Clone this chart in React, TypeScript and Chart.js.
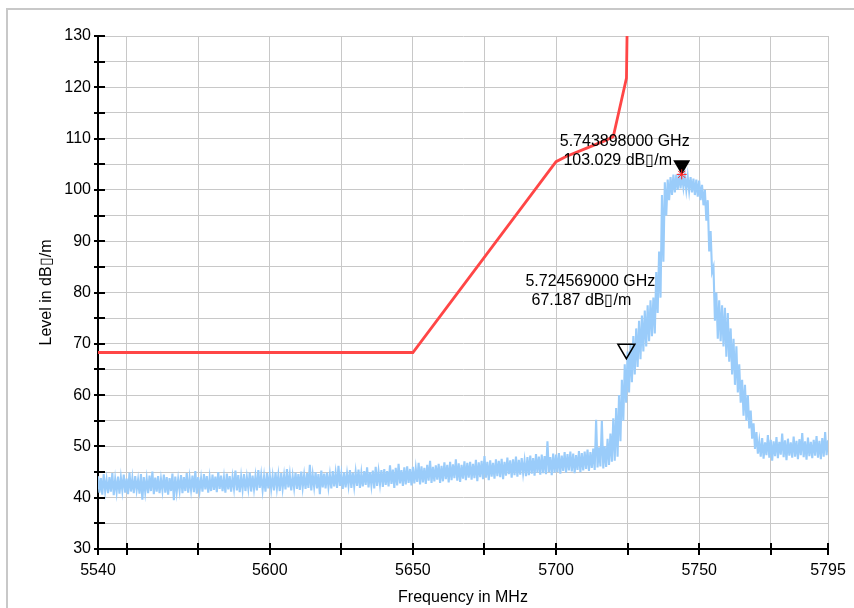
import React, { useEffect, useRef } from "react";
import { Chart, registerables } from "chart.js";

Chart.register(...registerables);

// ---------- data ----------
const xMin = 5540;
const xMax = 5795;
const yMin = 30;
const yMax = 130;
const xTickValues = [5540, 5550, 5575, 5600, 5625, 5650, 5675, 5700, 5725, 5750, 5775, 5795];
const xLabeledValues = [5540, 5600, 5650, 5700, 5750, 5795];
const yStep = 5;
const yLabelEvery = 10;

// measured trace, 1 MHz bins starting at 5540 MHz: upper and lower edge of the noisy trace
const traceStart = 5540;
const traceStep = 1;
const traceHigh = [
  44.2, 43.8, 44.6, 43.5, 44.0, 44.8, 43.6, 44.1, 43.9, 44.5,
  43.7, 44.9, 43.8, 44.2, 43.5, 44.6, 44.0, 43.7, 44.3, 45.1,
  43.9, 44.2, 43.6, 44.5, 44.0, 43.8, 44.7, 44.1, 43.6, 44.4,
  44.0, 44.8, 43.9, 44.3, 45.2, 44.0, 43.8, 44.6, 44.2, 43.9,
  44.5, 44.1, 45.0, 44.3, 43.9, 44.7, 44.2, 44.0, 45.3, 44.4,
  44.1, 44.6, 44.0, 44.9, 44.3, 44.2, 45.4, 44.4, 44.1, 44.8,
  44.5, 44.2, 45.0, 44.4, 44.8, 44.3, 45.6, 44.5, 44.2, 44.9,
  44.6, 45.1, 44.4, 44.8, 46.4, 44.5, 45.0, 44.6, 45.3, 44.7,
  44.9, 44.5, 45.2, 44.8, 46.2, 44.6, 45.0, 44.7, 45.4, 44.9,
  45.0, 45.5, 44.8, 45.2, 45.9, 45.0, 45.3, 46.0, 45.1, 45.4,
  45.6, 45.2, 46.3, 45.5, 45.8, 46.6, 45.4, 45.9, 46.1, 45.6,
  46.0, 45.7, 46.8, 46.1, 45.8, 46.4, 47.2, 46.0, 46.3, 46.6,
  46.2, 46.9, 46.4, 47.0, 46.5, 47.5, 46.7, 46.4, 47.1, 46.8,
  47.0, 46.6, 47.4, 46.9, 47.2, 48.1, 47.0, 47.3, 46.8, 47.5,
  47.2, 47.6, 47.0, 47.8, 47.3, 47.5, 48.0, 47.4, 47.7, 47.2,
  47.9, 48.2, 47.7, 48.5, 48.0, 48.4, 48.1, 51.0, 47.9, 48.6,
  48.4, 48.7, 48.2, 48.9, 48.5, 49.0, 48.6, 48.3, 49.1, 48.7,
  49.0, 49.4, 48.9, 49.6, 55.2, 49.8, 55.0, 50.0, 51.5, 52.5,
  55.5, 57.5, 60.0, 63.0, 66.0, 68.5, 70.0, 71.5, 73.0, 74.5,
  75.5, 76.5, 77.5, 78.5, 79.0, 84.0, 88.0, 99.0, 101.5, 102.0,
  102.5, 103.0, 103.0, 103.2, 103.0, 102.8, 102.6, 102.5, 102.2, 102.0,
  101.8, 101.0, 100.0, 98.0, 92.0, 85.0, 80.0, 78.5, 77.5, 77.0,
  76.0, 73.0, 71.0, 69.5, 66.0, 63.0, 62.0, 60.0, 57.0, 54.5,
  52.8,
  51.0, 51.6, 50.8, 52.2, 51.3, 51.0, 51.8, 50.9, 52.5, 51.2,
  51.5, 50.8, 51.9, 51.1, 51.4, 52.6, 51.0, 51.7, 50.9, 51.3,
  52.0, 51.1, 51.6, 52.8, 51.2,
];
const traceLow = [
  41.0, 40.6, 41.3, 40.9, 41.2, 40.5, 41.1, 40.8, 41.4, 41.0,
  40.7, 41.2, 40.9, 41.5, 40.8, 39.6, 41.1, 40.9, 41.3, 40.7,
  41.2, 40.9, 41.4, 41.0, 40.6, 41.3, 39.5, 41.1, 41.4, 40.9,
  41.3, 41.0, 41.5, 41.1, 40.8, 41.4, 41.2, 41.6, 41.0, 41.3,
  41.5, 41.1, 41.7, 41.3, 41.0, 41.6, 41.2, 41.8, 41.4, 41.1,
  41.6, 41.3, 41.8, 41.2, 41.7, 41.4, 41.9, 41.5, 41.2, 41.8,
  41.7, 41.4, 41.9, 41.3, 41.8, 41.6, 42.0, 41.4, 41.9, 41.7,
  41.5, 42.0, 41.7, 41.9, 41.4, 42.1, 41.8, 40.7, 42.0, 41.8,
  42.1, 41.8, 42.2, 41.9, 42.3, 41.7, 42.0, 42.4, 41.9, 42.2,
  42.3, 41.9, 42.2, 42.5, 42.0, 42.4, 41.8, 42.3, 42.6, 42.1,
  42.5, 42.2, 42.7, 41.9, 42.4, 42.8, 42.3, 42.6, 42.9, 42.4,
  42.8, 43.1, 42.6, 43.0, 42.7, 43.3, 42.9, 43.2, 43.5, 42.9,
  43.2, 43.6, 43.0, 43.4, 43.8, 43.3, 43.1, 43.7, 43.4, 43.9,
  43.5, 43.8, 43.2, 44.0, 43.6, 43.9, 43.4, 44.1, 43.7, 44.2,
  44.0, 43.6, 44.3, 44.6, 43.9, 44.4, 44.1, 44.5, 44.8, 44.2,
  44.4, 44.7, 44.3, 44.9, 44.5, 44.8, 44.6, 45.0, 44.4, 44.9,
  45.0, 44.7, 45.2, 44.9, 45.3, 45.1, 44.8, 45.4, 45.0, 45.3,
  45.6, 45.2, 45.8, 45.4, 45.9, 46.1, 45.7, 46.0, 46.4, 47.0,
  47.2, 48.0, 51.0, 55.0, 58.5, 60.5, 62.5, 64.0, 65.5, 67.0,
  68.5, 69.5, 70.5, 71.5, 72.0, 76.0, 79.0, 86.0, 95.0, 98.0,
  99.0, 99.5, 100.0, 100.3, 100.5, 100.0, 99.8, 99.5, 99.0, 98.7,
  98.0, 97.0, 94.0, 88.0, 84.0, 74.5, 71.0, 70.5, 69.5, 67.5,
  66.5, 64.0, 62.0, 60.5, 58.5, 56.0, 55.0, 53.5, 51.5, 49.5,
  48.6,
  48.0, 47.6, 48.3, 47.8, 47.2, 48.1, 47.7, 48.4, 47.9, 47.3,
  48.2, 47.8, 48.0, 47.5, 48.3, 47.9, 47.4, 48.1, 47.7, 48.2,
  47.8, 47.5, 48.0, 48.3, 47.9,
];

// limit line
const limitFreq = [5540, 5650, 5700, 5703.5, 5710.5, 5717.5, 5720, 5724.6, 5724.8];
const limitLevel = [68.3, 68.3, 105.5, 106.5, 108.1, 109.7, 110.4, 121.8, 130];

// markers
const markerFreq = [5743.898, 5724.569];
const markerLevel = [103.029, 67.187];
const markerFilled = [true, false];
const unitText = "dB\u25AF/m";

// ---------- styles ----------
const FONT = "'Liberation Sans', Arial, Helvetica, sans-serif";
const TRACE_COLOR = "#9accfa";
const LIMIT_COLOR = "#ff4646";
const GRID_COLOR = "#c8c8c8";
// label offsets (px) relative to the marker point: [line1 dx, line1 dy, line2 dx, line2 dy]
const markerLabelOffsets = [
  [-57, -33, -64, -14],
  [-36, -77, -45, -58],
];

export default function App() {
  const ref = useRef<HTMLCanvasElement | null>(null);

  useEffect(() => {
    document.body.style.margin = "0";
    document.body.style.overflow = "hidden";
    const canvas = ref.current;
    if (!canvas) return;

    const tracePoints: { x: number; y: number }[] = [];
    const n = Math.min(traceHigh.length, traceLow.length);
    for (let i = 0; i < n; i++) {
      const f = traceStart + i * traceStep;
      tracePoints.push({ x: f, y: traceHigh[i] });
      tracePoints.push({ x: f + traceStep / 2, y: traceLow[i] });
    }
    const limitPoints = limitFreq.map((f, i) => ({ x: f, y: limitLevel[i] }));

    const decorPlugin = {
      id: "decor",
      beforeDraw(chart: any) {
        const ctx = chart.ctx;
        ctx.save();
        ctx.fillStyle = "#ffffff";
        ctx.fillRect(0, 0, chart.width, chart.height);
        ctx.strokeStyle = "#c8c8c8";
        ctx.lineWidth = 2;
        ctx.beginPath();
        ctx.moveTo(7, chart.height);
        ctx.lineTo(7, 9);
        ctx.lineTo(chart.width, 9);
        ctx.stroke();
        ctx.restore();
      },
      afterDraw(chart: any) {
        const ctx = chart.ctx;
        const xs = chart.scales.x;
        const ys = chart.scales.y;
        const area = chart.chartArea;
        ctx.save();
        ctx.strokeStyle = "#000";
        ctx.lineWidth = 2;
        ctx.beginPath();
        xs.ticks.forEach((t: any) => {
          const px = Math.round(xs.getPixelForValue(t.value));
          ctx.moveTo(px, area.bottom - 6);
          ctx.lineTo(px, area.bottom + 6);
        });
        ys.ticks.forEach((t: any) => {
          const py = Math.round(ys.getPixelForValue(t.value));
          ctx.moveTo(area.left - 4, py);
          ctx.lineTo(area.left + 7, py);
        });
        ctx.stroke();

        markerFreq.forEach((f, i) => {
          const px = xs.getPixelForValue(f);
          const py = ys.getPixelForValue(markerLevel[i]);
          ctx.beginPath();
          ctx.moveTo(px - 8.5, py - 14);
          ctx.lineTo(px + 8.5, py - 14);
          ctx.lineTo(px, py + 0.5);
          ctx.closePath();
          if (markerFilled[i]) {
            ctx.fillStyle = "#000";
            ctx.fill();
          } else {
            ctx.strokeStyle = "#000";
            ctx.lineWidth = 1.5;
            ctx.stroke();
          }
          if (markerFilled[i]) {
            ctx.strokeStyle = "#ff2020";
            ctx.lineWidth = 1;
            ctx.beginPath();
            const r = 5;
            ctx.moveTo(px - r, py);
            ctx.lineTo(px + r, py);
            ctx.moveTo(px, py - r);
            ctx.lineTo(px, py + r);
            ctx.moveTo(px - r * 0.7, py - r * 0.7);
            ctx.lineTo(px + r * 0.7, py + r * 0.7);
            ctx.moveTo(px - r * 0.7, py + r * 0.7);
            ctx.lineTo(px + r * 0.7, py - r * 0.7);
            ctx.stroke();
          }
          const o = markerLabelOffsets[i];
          ctx.fillStyle = "#000";
          ctx.font = `16px ${FONT}`;
          ctx.textAlign = "center";
          ctx.textBaseline = "middle";
          ctx.fillText(`${(f / 1000).toFixed(9)} GHz`, px + o[0], py + o[1]);
          ctx.fillText(`${markerLevel[i].toFixed(3)} ${unitText}`, px + o[2], py + o[3]);
        });
        ctx.restore();
      },
    };

    const chart = new Chart(canvas, {
      type: "line",
      data: {
        datasets: [
          {
            label: "Trace",
            data: tracePoints,
            borderColor: TRACE_COLOR,
            borderWidth: 2.1,
            pointRadius: 0,
            tension: 0,
            fill: false,
          },
          {
            label: "Limit",
            data: limitPoints,
            borderColor: LIMIT_COLOR,
            borderWidth: 2.8,
            pointRadius: 0,
            tension: 0,
            fill: false,
          },
        ],
      },
      options: {
        responsive: false,
        animation: false,
        devicePixelRatio: 1,
        layout: { padding: { left: 0, right: 26, top: 36, bottom: 0 } },
        plugins: {
          legend: { display: false },
          tooltip: { enabled: false },
        },
        scales: {
          x: {
            type: "linear",
            min: xMin,
            max: xMax,
            afterBuildTicks: (scale: any) => {
              scale.ticks = xTickValues.map((v) => ({ value: v }));
            },
            afterFit: (scale: any) => {
              scale.height = 59;
              scale.paddingLeft = 0;
              scale.paddingRight = 0;
            },
            ticks: {
              autoSkip: false,
              maxRotation: 0,
              padding: 12,
              color: "#000",
              font: { family: FONT, size: 16 },
              callback: (v: any) => (xLabeledValues.includes(Number(v)) ? String(v) : ""),
            },
            grid: { color: GRID_COLOR, lineWidth: 1, drawTicks: false },
            border: { color: "#000", width: 2 },
            title: {
              display: true,
              text: "Frequency in MHz",
              color: "#000",
              font: { family: FONT, size: 16 },
              padding: { top: 0, bottom: 1 },
            },
          },
          y: {
            type: "linear",
            min: yMin,
            max: yMax,
            afterFit: (scale: any) => {
              scale.width = 98;
              scale.paddingTop = 0;
              scale.paddingBottom = 0;
            },
            ticks: {
              stepSize: yStep,
              padding: 7,
              color: "#000",
              font: { family: FONT, size: 16 },
              callback: (v: any) => (Number(v) % yLabelEvery === 0 ? String(v) : ""),
            },
            grid: { color: GRID_COLOR, lineWidth: 1, drawTicks: false },
            border: { color: "#000", width: 2 },
            title: {
              display: true,
              text: `Level in ${unitText}`,
              color: "#000",
              font: { family: FONT, size: 16 },
              padding: { top: 37, bottom: 0 },
            },
          },
        },
      },
      plugins: [decorPlugin],
    } as any);

    return () => chart.destroy();
  }, []);

  return (
    <div style={{ width: 854, height: 608, position: "relative" }}>
      <canvas ref={ref} width={854} height={608} style={{ display: "block" }} />
    </div>
  );
}
